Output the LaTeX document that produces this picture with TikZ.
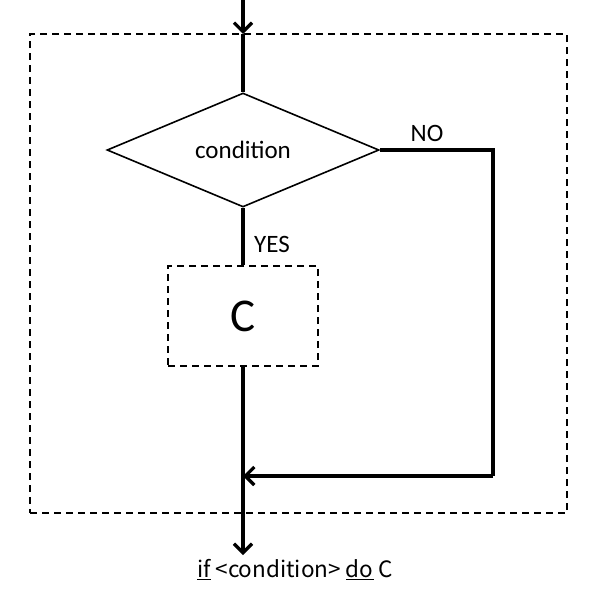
\documentclass[tikz,border=0pt]{standalone}
\usepackage{fontspec}
\setmainfont{Carlito}
\newfontfamily\jpfont{Noto Sans CJK JP}
\usetikzlibrary{shapes.geometric,arrows.meta}
\tikzset{
  flow/.style={line width=3.2pt},
  arrtip/.style={-{Straight Barb[length=9pt,width=18pt,line width=3.2pt]}},
  thinline/.style={line width=1.6pt},
  dashline/.style={line width=1.5pt,dash pattern=on 7pt off 5pt},
  lbl/.style={font=\fontsize{25}{25}\selectfont,inner sep=0pt}
}
\begin{document}
\begin{tikzpicture}[x=1pt,y=-1pt]
\useasboundingbox (0,0) rectangle (589,589);
\node[dashline,draw,minimum width=537pt,minimum height=479pt,inner sep=0pt] (outer) at (298.5,273.5) {};
\coordinate (start) at (243,0);
\node[draw,thinline,diamond,minimum width=272pt,minimum height=114pt,inner sep=0pt,font=\fontsize{25}{25}\selectfont] (cond) at (243,150) {\raisebox{-3pt}{condition}};
\node[dashline,draw,minimum width=150pt,minimum height=100pt,inner sep=0pt,font=\fontsize{47}{47}\selectfont] (C) at (243,316) {C};
\coordinate (right) at (493,150);
\coordinate (rb) at (493,476);
\coordinate (join) at (243,476);
\coordinate (end) at (243,555);
\coordinate (entry) at (243,34);
\draw[flow,arrtip] (start) -- (entry);
\draw[flow] (entry) -- (cond.north);
\draw[flow] (cond.south) -- (C.north);
\draw[flow] (cond.east) -- (right) -- (rb);
\draw[flow,arrtip] (rb) -- (join);
\draw[flow,arrtip] (C.south) -- (end);
\node[lbl] (no) at (427,133) {NO};
\node[lbl] (yes) at (272,244) {YES};
\node[inner sep=0pt,font=\jpfont\fontsize{22.5}{22.5}\selectfont] (cap) at (295,570) {\underline{if} <condition> \underline{do} C};
\end{tikzpicture}
\end{document}
